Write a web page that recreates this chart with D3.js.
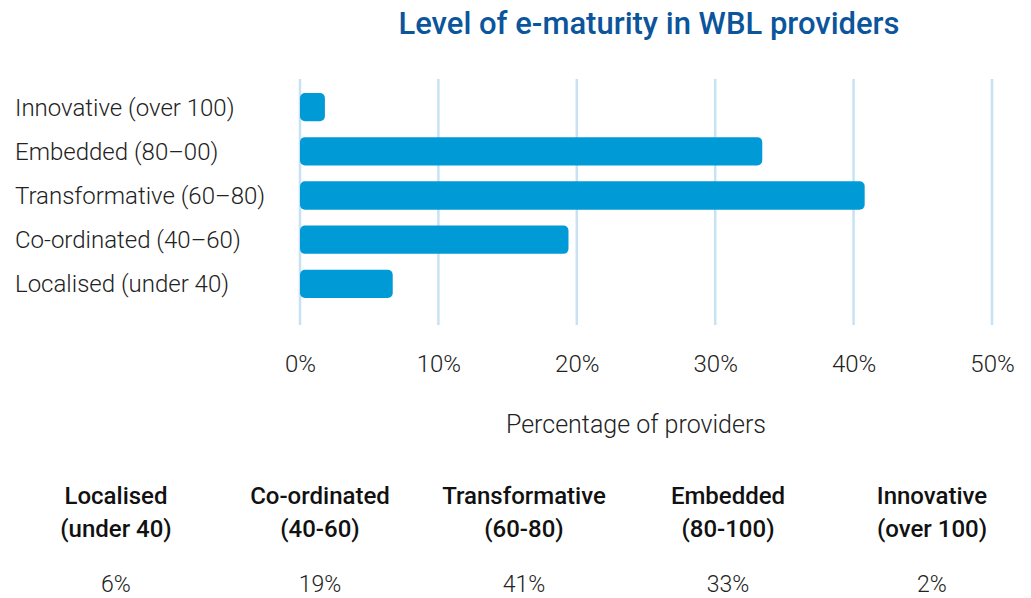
<!DOCTYPE html>
<html>
<head>
<meta charset="utf-8">
<script src="https://cdn.jsdelivr.net/npm/d3@7"></script>
<style>
  body { margin: 0; background: #fff; }
  svg { font-family: Roboto, "Open Sans", sans-serif; }
</style>
</head>
<body>
<div id="root"></div>
<script>
const categories = ["Innovative (over 100)", "Embedded (80\u201300)", "Transformative (60\u201380)", "Co-ordinated (40\u201360)", "Localised (under 40)"];
const values = [1.8, 33.4, 40.8, 19.4, 6.7];
const ticks = [0, 10, 20, 30, 40, 50];

const tableHeads = [["Localised", "(under 40)"], ["Co-ordinated", "(40-60)"], ["Transformative", "(60-80)"], ["Embedded", "(80-100)"], ["Innovative", "(over 100)"]];
const tableValues = ["6%", "19%", "41%", "33%", "2%"];

const svg = d3.select("#root")
  .append("svg")
  .attr("width", 1031)
  .attr("height", 598);

const x = d3.scaleLinear().domain([0, 50]).range([300, 992]);
const y = d3.scaleBand().domain(categories).range([85, 306]).paddingInner(0.36).paddingOuter(0.18);

svg.append("text")
  .attr("x", 649)
  .attr("y", 34)
  .attr("text-anchor", "middle")
  .attr("font-size", 31)
  .attr("font-weight", 500)
  .attr("fill", "#0b559c")
  .text("Level of e-maturity in WBL providers");

// grid lines
svg.selectAll(".grid")
  .data(ticks)
  .enter().append("line")
    .attr("class", "grid")
    .attr("x1", d => x(d))
    .attr("x2", d => x(d))
    .attr("y1", 79)
    .attr("y2", 325)
    .attr("stroke", "#c7e2f4")
    .attr("stroke-width", 2.5);

// bars
svg.selectAll(".bar")
  .data(values)
  .enter().append("rect")
    .attr("class", "bar")
    .attr("x", x(0))
    .attr("y", (d, i) => y(categories[i]))
    .attr("width", d => x(d) - x(0))
    .attr("height", y.bandwidth())
    .attr("rx", 5)
    .attr("fill", "#009ad7");

// category labels
svg.selectAll(".cat")
  .data(categories)
  .enter().append("text")
    .attr("class", "cat")
    .attr("x", 15)
    .attr("y", d => y(d) + y.bandwidth() / 2)
    .attr("dy", "0.35em")
    .attr("font-size", 24)
    .attr("font-weight", 300)
    .attr("fill", "#222")
    .text(d => d);

// x axis
const xAxis = svg.append("g")
  .attr("transform", "translate(0,352)")
  .call(d3.axisBottom(x).tickValues(ticks).tickFormat(d => d + "%").tickSize(0));
xAxis.select(".domain").remove();
xAxis.selectAll("text")
  .attr("font-size", 24)
  .attr("font-weight", 300)
  .attr("fill", "#222")
  .attr("font-family", "Roboto, sans-serif");

svg.append("text")
  .attr("x", 636)
  .attr("y", 433)
  .attr("text-anchor", "middle")
  .attr("font-size", 25)
  .attr("font-weight", 300)
  .attr("fill", "#222")
  .text("Percentage of providers");

// bottom table
const tx = d3.scalePoint().domain(d3.range(tableHeads.length)).range([116, 932]);

tableHeads.forEach((h, i) => {
  const t = svg.append("text")
    .attr("x", tx(i))
    .attr("text-anchor", "middle")
    .attr("font-size", 24)
    .attr("font-weight", 500)
    .attr("fill", "#111");
  t.append("tspan").attr("x", tx(i)).attr("y", 504).text(h[0]);
  t.append("tspan").attr("x", tx(i)).attr("y", 537).text(h[1]);
});

svg.selectAll(".tval")
  .data(tableValues)
  .enter().append("text")
    .attr("class", "tval")
    .attr("x", (d, i) => tx(i))
    .attr("y", 592)
    .attr("text-anchor", "middle")
    .attr("font-size", 23)
    .attr("font-weight", 300)
    .attr("fill", "#222")
    .text(d => d);
</script>
</body>
</html>
